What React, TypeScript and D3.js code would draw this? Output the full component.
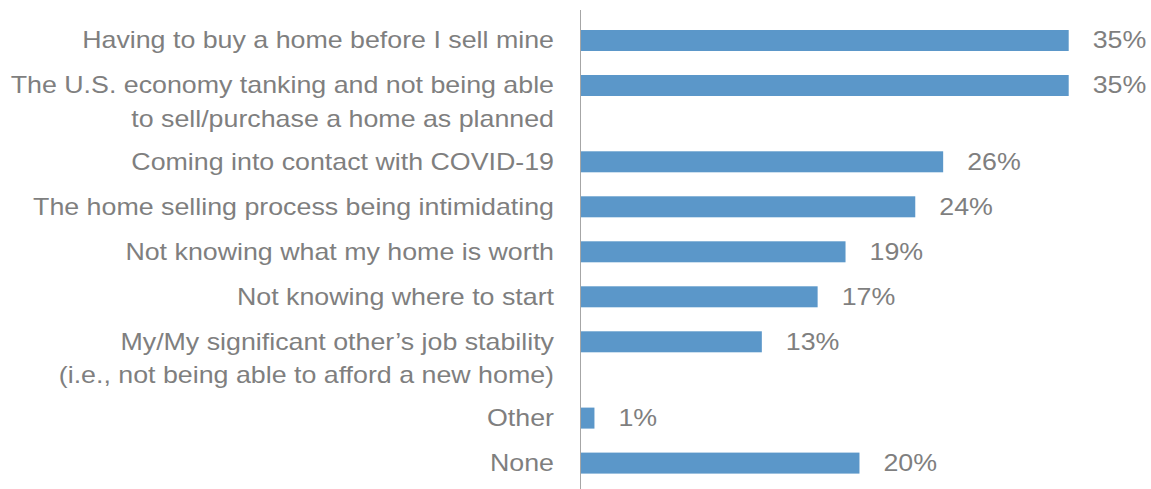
import React from "react";
import * as d3 from "d3";

const labels: string[][] = [
  ["Having to buy a home before I sell mine"],
  ["The U.S. economy tanking and not being able", "to sell/purchase a home as planned"],
  ["Coming into contact with COVID-19"],
  ["The home selling process being intimidating"],
  ["Not knowing what my home is worth"],
  ["Not knowing where to start"],
  ["My/My significant other’s job stability", "(i.e., not being able to afford a new home)"],
  ["Other"],
  ["None"],
];
const values: number[] = [35, 35, 26, 24, 19, 17, 13, 1, 20];

const W = 1151;
const H = 489;
const X0 = 580.5;
const ROW_STEP = 45;
const LINE_GAP = 31.3;
const FIRST_CENTER = 40.5;
const BAR_H = 21;
const FONT = 23;
const SX = 1.165;
const TEXT_COLOR = "#7f7f7f";
const BAR_COLOR = "#5b97c9";

export default function App() {
  const x = d3.scaleLinear().domain([0, 35]).range([X0, 1068.7]);

  // slot position of each row: index plus extra label lines before it
  const slots: number[] = [];
  let extra = 0;
  labels.forEach((l, i) => {
    slots.push(i + (extra * LINE_GAP) / ROW_STEP);
    extra += l.length - 1;
  });
  const y = d3
    .scaleLinear()
    .domain([0, 1])
    .range([FIRST_CENTER, FIRST_CENTER + ROW_STEP]);

  const baseOff = FONT * 0.345;

  return (
    <svg
      width={W}
      height={H}
      style={{ position: "absolute", left: 0, top: 0, background: "#fff" }}
      fontFamily="'Liberation Sans', Arial, Helvetica, sans-serif"
    >
      <line x1={X0} x2={X0} y1={10} y2={H} stroke="#a6a6a6" strokeWidth={1} />
      {values.map((v, i) => {
        const cy = y(slots[i]);
        return (
          <g key={i}>
            <rect
              x={x(0) + 0.5}
              y={cy - BAR_H / 2}
              width={x(v) - x(0) - 0.5}
              height={BAR_H}
              fill={BAR_COLOR}
            />
            <g transform={`translate(${x(v) + 24},${cy + baseOff}) scale(${SX},1)`}>
              <text fontSize={FONT} fill={TEXT_COLOR} textAnchor="start">
                {`${v}%`}
              </text>
            </g>
            {labels[i].map((line, j) => (
              <g
                key={j}
                transform={`translate(554,${cy + baseOff + j * 33.5}) scale(${SX},1)`}
              >
                <text fontSize={FONT} fill={TEXT_COLOR} textAnchor="end">
                  {line}
                </text>
              </g>
            ))}
          </g>
        );
      })}
    </svg>
  );
}
